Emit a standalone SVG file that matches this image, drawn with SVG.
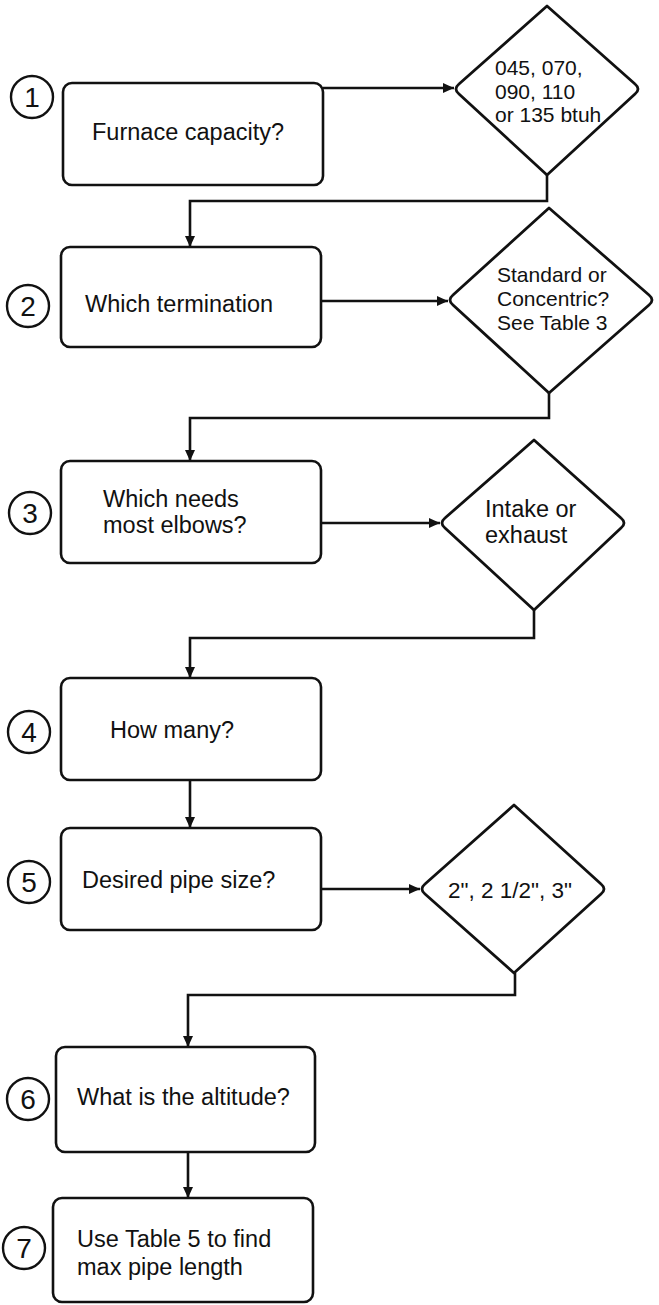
<svg xmlns="http://www.w3.org/2000/svg" width="659" height="1305" viewBox="0 0 659 1305">
<style>
.box{fill:#fff;stroke:#111;stroke-width:2.6}
.dia{fill:#fff;stroke:#111;stroke-width:2.8;stroke-linejoin:round}
.num{fill:#fff;stroke:#111;stroke-width:2.4}
.t{font-family:"Liberation Sans",Arial,sans-serif;fill:#111;font-size:23.5px}
.td{font-family:"Liberation Sans",Arial,sans-serif;fill:#111;font-size:21px}
.n{font-family:"Liberation Sans",Arial,sans-serif;fill:#111;font-size:28px;text-anchor:middle}
.c{fill:none;stroke:#111;stroke-width:2.6}
</style>
<defs>
<marker id="ah" markerUnits="userSpaceOnUse" markerWidth="12" markerHeight="10" refX="11" refY="5" orient="auto">
<path d="M0,0 L11,5 L0,10 z" fill="#111"/>
</marker>
</defs>
<rect width="659" height="1305" fill="#fff"/>
<g id="connectors">
<path class="c" d="M323 88 H454" marker-end="url(#ah)"/>
<path class="c" d="M547 175 V201 H190 V247" marker-end="url(#ah)"/>
<path class="c" d="M321 301 H448" marker-end="url(#ah)"/>
<path class="c" d="M549 393 V418 H190 V461" marker-end="url(#ah)"/>
<path class="c" d="M321 523 H440" marker-end="url(#ah)"/>
<path class="c" d="M534 610 V638 H190 V678" marker-end="url(#ah)"/>
<path class="c" d="M190 780 V828" marker-end="url(#ah)"/>
<path class="c" d="M321 889 H420" marker-end="url(#ah)"/>
<path class="c" d="M515 973 V995 H188 V1047" marker-end="url(#ah)"/>
<path class="c" d="M188 1152 V1198" marker-end="url(#ah)"/>
</g>
<g id="node1">
<circle class="num" cx="32" cy="97" r="21"/>
<text class="n" x="32" y="107">1</text>
<rect class="box" x="63" y="83" width="260" height="102" rx="9"/>
<text class="t" x="92" y="140">Furnace capacity?</text>
</g>
<g id="dec1">
<path class="dia" d="M547 6 L459 84 Q453 89 459 94 L547 175 L635 94 Q641 89 635 84 Z"/>
<text class="td" x="495" y="75">045, 070,</text>
<text class="td" x="495" y="99">090, 110</text>
<text class="td" x="495" y="122">or 135 btuh</text>
</g>
<g id="node2">
<circle class="num" cx="28" cy="306" r="21"/>
<text class="n" x="28" y="316">2</text>
<rect class="box" x="61" y="247" width="260" height="100" rx="9"/>
<text class="t" x="85" y="312">Which termination</text>
</g>
<g id="dec2">
<path class="dia" d="M549 208 L453 295 Q447 300 453 305 L549 393 L649 305 Q655 300 649 295 Z"/>
<text class="td" x="497" y="282">Standard or</text>
<text class="td" x="497" y="306">Concentric?</text>
<text class="td" x="497" y="330">See Table 3</text>
</g>
<g id="node3">
<circle class="num" cx="30" cy="513" r="21"/>
<text class="n" x="30" y="523">3</text>
<rect class="box" x="61" y="461" width="260" height="102" rx="9"/>
<text class="t" x="103" y="507">Which needs</text>
<text class="t" x="103" y="533">most elbows?</text>
</g>
<g id="dec3">
<path class="dia" d="M534 440 L445 518 Q439 523 445 528 L534 610 L621 528 Q627 523 621 518 Z"/>
<text class="t" x="485" y="517">Intake or</text>
<text class="t" x="485" y="543">exhaust</text>
</g>
<g id="node4">
<circle class="num" cx="29" cy="732" r="21"/>
<text class="n" x="29" y="742">4</text>
<rect class="box" x="61" y="678" width="260" height="102" rx="9"/>
<text class="t" x="110" y="738">How many?</text>
</g>
<g id="node5">
<circle class="num" cx="29" cy="882" r="21"/>
<text class="n" x="29" y="892">5</text>
<rect class="box" x="61" y="828" width="260" height="102" rx="9"/>
<text class="t" x="82" y="888">Desired pipe size?</text>
</g>
<g id="dec4">
<path class="dia" d="M514 805 L425 884 Q419 889 425 894 L514 973 L601 894 Q607 889 601 884 Z"/>
<text class="td" x="448" y="898" style="font-size:22.5px">2", 2 1/2", 3"</text>
</g>
<g id="node6">
<circle class="num" cx="28" cy="1099" r="21"/>
<text class="n" x="28" y="1109">6</text>
<rect class="box" x="56" y="1047" width="259" height="105" rx="9"/>
<text class="t" x="77" y="1105">What is the altitude?</text>
</g>
<g id="node7">
<circle class="num" cx="24" cy="1248" r="21"/>
<text class="n" x="24" y="1258">7</text>
<rect class="box" x="53" y="1198" width="260" height="104" rx="9"/>
<text class="t" x="77" y="1247">Use Table 5 to find</text>
<text class="t" x="77" y="1275">max pipe length</text>
</g>
</svg>
